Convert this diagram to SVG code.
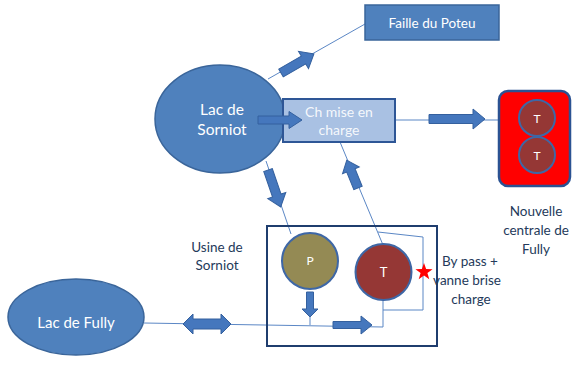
<svg xmlns="http://www.w3.org/2000/svg" width="572" height="366" viewBox="0 0 572 366">
<style>
.ln{fill:none;stroke:#5b87c5;stroke-width:1}
.ar{fill:#4577bd;stroke:#34609e;stroke-width:1}
.blue{fill:#4f81bd;stroke:#3a659a;stroke-width:1.5}
.wt{font-family:Lato,"Liberation Sans",sans-serif;fill:#ffffff;text-anchor:middle}
.dk{font-family:Lato,"Liberation Sans",sans-serif;fill:#243a5a;text-anchor:middle;font-size:13.5px}
.tur{stroke:#3e67a6;stroke-width:2}
</style>
<rect width="572" height="366" fill="#ffffff"/>
<g id="connectors">
<line class="ln" x1="268" y1="79" x2="365" y2="24"/>
<line class="ln" x1="395" y1="120" x2="499" y2="120"/>
<line class="ln" x1="266" y1="161" x2="291" y2="234"/>
<line class="ln" x1="340" y1="142" x2="383" y2="245"/>
<polyline class="ln" points="378,232 423,237 423,310 383,310"/>
<line class="ln" x1="383" y1="300" x2="383" y2="327"/>
<polyline class="ln" points="144,323 383,327"/>
<line class="ln" x1="310" y1="317" x2="310" y2="325"/>
</g>
<g id="faille">
<rect x="365" y="5" width="134" height="35" class="blue"/>
<text x="432" y="27.5" class="wt" font-size="13.5">Faille du Poteu</text>
</g>
<g id="lac-sorniot">
<ellipse cx="220" cy="119" rx="65" ry="54" class="blue"/>
<text x="222" y="115" class="wt" font-size="15.5">Lac de</text>
<text x="222" y="135" class="wt" font-size="15.5">Sorniot</text>
</g>
<g id="chemise">
<rect x="283" y="99" width="112" height="43" fill="#a9c1e3" stroke="#2e5696" stroke-width="2"/>
<text x="339" y="117" class="wt" font-size="14" fill-opacity="0.9">Ch mise en</text>
<text x="339" y="135" class="wt" font-size="14" fill-opacity="0.9">charge</text>
</g>
<g id="centrale">
<rect x="499" y="91" width="71" height="95" rx="9" fill="#ff0000" stroke="#2b5292" stroke-width="2.5"/>
<circle cx="537" cy="118" r="18" fill="#953735" class="tur"/>
<text x="537" y="122.5" class="wt" font-size="12">T</text>
<circle cx="537" cy="155" r="18" fill="#953735" class="tur"/>
<text x="537" y="159.5" class="wt" font-size="12">T</text>
</g>
<g id="label-centrale">
<text x="536" y="216" class="dk">Nouvelle</text>
<text x="536" y="235" class="dk">centrale de</text>
<text x="536" y="254" class="dk">Fully</text>
</g>
<g id="usine">
<rect x="267" y="226" width="170" height="120" fill="none" stroke="#1f3d6e" stroke-width="2"/>
<circle cx="310" cy="261" r="28" fill="#948a54" class="tur"/>
<text x="310" y="265" class="wt" font-size="12">P</text>
<circle cx="383.5" cy="272" r="28" fill="#953735" class="tur"/>
<text x="383.5" y="276.5" class="wt" font-size="13">T</text>
</g>
<g id="label-usine">
<text x="217" y="252" class="dk">Usine de</text>
<text x="217" y="270" class="dk">Sorniot</text>
</g>
<g id="bypass">
<polygon transform="translate(424,272)" fill="#ff0000" points="0,-9 2.12,-2.91 8.56,-2.78 3.42,1.11 5.29,7.28 0,3.6 -5.29,7.28 -3.42,1.11 -8.56,-2.78 -2.12,-2.91"/>
<text x="470" y="266" class="dk">By pass +</text>
<text x="467" y="285" class="dk">vanne brise</text>
<text x="471" y="304" class="dk">charge</text>
</g>
<g id="lac-fully">
<ellipse cx="76" cy="317" rx="68" ry="38" class="blue"/>
<text x="76" y="328" class="wt" font-size="15">Lac de Fully</text>
</g>
<g id="arrows">
<path class="ar" transform="translate(258,120)" d="M0,-4 H31 V-8.5 L44,0 L31,8.5 V4 H0 Z"/>
<path class="ar" transform="translate(429,119)" d="M0,-4.5 H44 V-10 L56,0 L44,10 V4.5 H0 Z"/>
<path class="ar" transform="translate(281,73) rotate(-30)" d="M0,-4.5 H26 V-10 L38,0 L26,10 V4.5 H0 Z"/>
<path class="ar" transform="translate(268,170) rotate(71)" d="M0,-4.5 H27 V-9.5 L39,0 L27,9.5 V4.5 H0 Z"/>
<path class="ar" transform="translate(358,188) rotate(-112)" d="M0,-4.5 H19 V-9 L30,0 L19,9 V4.5 H0 Z"/>
<path class="ar" transform="translate(310,292) rotate(90)" d="M0,-3.5 H17 V-8 L25,0 L17,8 V3.5 H0 Z"/>
<path class="ar" transform="translate(333,325)" d="M0,-3.5 H28 V-9 L39,0 L28,9 V3.5 H0 Z"/>
<path class="ar" d="M183,324 L193,314 V319 H221 V314 L231,324 L221,334 V329 H193 V334 Z"/>
</g>
</svg>
